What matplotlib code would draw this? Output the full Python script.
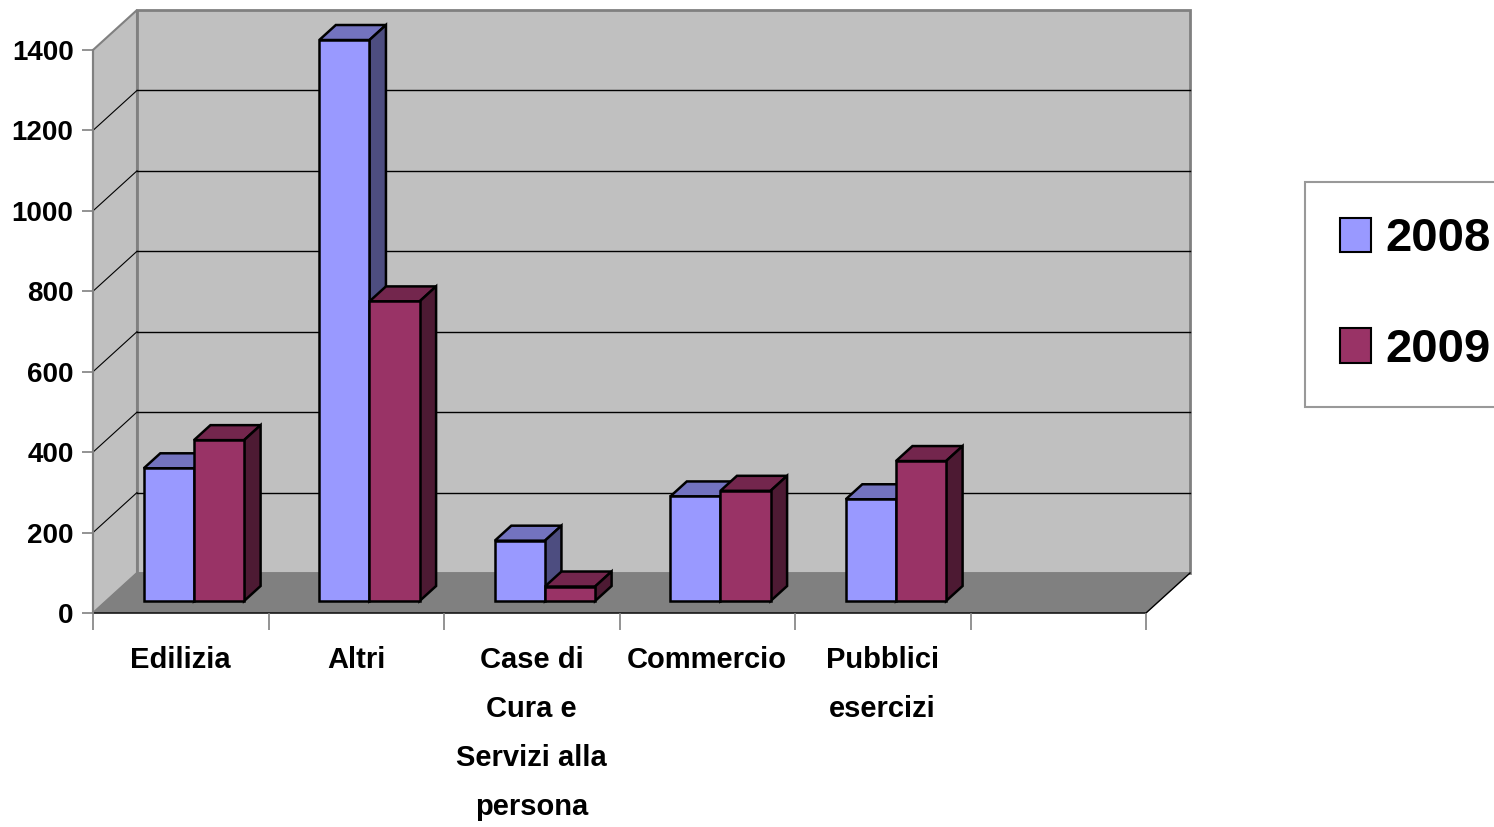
import matplotlib.pyplot as plt
from matplotlib.patches import Polygon, Patch

categorie = ['Edilizia', 'Altri', 'Case di\nCura e\nServizi alla\npersona', 'Commercio', 'Pubblici\nesercizi']
anni = ['2008', '2009']
v2008 = [330, 1395, 150, 260, 253]
v2009 = [400, 745, 36, 274, 348]
yticks = [0, 200, 400, 600, 800, 1000, 1200, 1400]

plt.rcParams['font.family'] = ['Liberation Sans', 'DejaVu Sans']
plt.rcParams['font.weight'] = 'bold'

col_front = ['#9999FF', '#993366']
col_top = ['#7373BF', '#73264D']
col_side = ['#4D4D80', '#4D1A33']

W, H = 1494, 827
fig = plt.figure(figsize=(W/100, H/100), dpi=100)
ax = fig.add_axes([93/W, 214/H, 1053/W, 563/H])
ax.set_xlim(0, 6)
ax.set_ylim(0, 1400)
ax.patch.set_visible(False)

# profondita' della scena 3D (obliqua)
DX = 44/175.5
DY = 40/(563/1400)

def poly(pts, fc, ec, lw, z):
    ax.add_patch(Polygon(pts, closed=True, facecolor=fc, edgecolor=ec, linewidth=lw, zorder=z, clip_on=False, joinstyle='miter'))

# pareti e pavimento
poly([(0, 0), (DX, DY), (DX, 1400+DY), (0, 1400)], '#C0C0C0', '#808080', 1.5, 0)
poly([(DX, DY), (6+DX, DY), (6+DX, 1400+DY), (DX, 1400+DY)], '#C0C0C0', '#808080', 2, 0)
poly([(0, 0), (6, 0), (6+DX, DY), (DX, DY)], '#808080', '#808080', 0.5, 0.5)
ax.plot([0, 6, 6+DX], [0, 0, DY], color='black', lw=1, clip_on=False, zorder=0.6)

for v in yticks[1:-1]:
    ax.plot([DX, 6+DX], [v+DY, v+DY], color='black', lw=1, clip_on=False, zorder=0.3)
    ax.plot([0, DX], [v, v+DY], color='black', lw=0.8, clip_on=False, zorder=0.3)

# barre
w = 1/3.5
d0, d1 = 0.3, 0.675
fx, fy = d0*DX, d0*DY
bx, by = (d1-d0)*DX, (d1-d0)*DY
for i in range(len(categorie)):
    for j, vals in enumerate([v2008, v2009]):
        x0 = i + 0.75*w + j*w + fx
        v = vals[i]
        z = 2 + i*0.1 + j*0.01
        ax.bar(x0, v, w, bottom=fy, align='edge', color=col_front[j], edgecolor='black', linewidth=1.8, zorder=z+0.005, clip_on=False)
        poly([(x0, v+fy), (x0+w, v+fy), (x0+w+bx, v+fy+by), (x0+bx, v+fy+by)], col_top[j], 'black', 1.8, z)
        poly([(x0+w, fy), (x0+w+bx, fy+by), (x0+w+bx, v+fy+by), (x0+w, v+fy)], col_side[j], 'black', 1.8, z)

# assi
for s in ['top', 'right', 'bottom']:
    ax.spines[s].set_visible(False)
ax.spines['left'].set_color('#808080')
ax.spines['left'].set_linewidth(1.5)
ax.set_yticks(yticks)
ax.set_yticklabels([str(t) for t in yticks])
ax.tick_params(axis='y', direction='out', length=8, width=1.2, color='#808080', pad=6, labelsize=20)
ax.set_xticks(range(7))
ax.set_xticklabels([''] * 7)
ax.tick_params(axis='x', which='major', direction='out', length=12, width=1.2, color='#808080')
ax.set_xticks([i + 0.5 for i in range(len(categorie))], minor=True)
ax.set_xticklabels(categorie, minor=True, fontsize=21, fontweight='bold', linespacing=1.95)
ax.tick_params(axis='x', which='minor', length=0, pad=24)

handles = [Patch(facecolor=col_front[k], edgecolor='black', linewidth=1.5) for k in range(2)]
leg = fig.legend(handles, anni, loc='upper left', bbox_to_anchor=(1305/W, 1-182/H),
                 prop={'size': 34, 'weight': 'bold'}, frameon=True, fancybox=False,
                 handlelength=0.65, handleheight=0.75, handletextpad=0.3,
                 labelspacing=1.41, borderpad=0.75, borderaxespad=0)
leg.get_frame().set_edgecolor('#808080')
leg.get_frame().set_linewidth(1.5)

plt.savefig('out.png', dpi=100)
